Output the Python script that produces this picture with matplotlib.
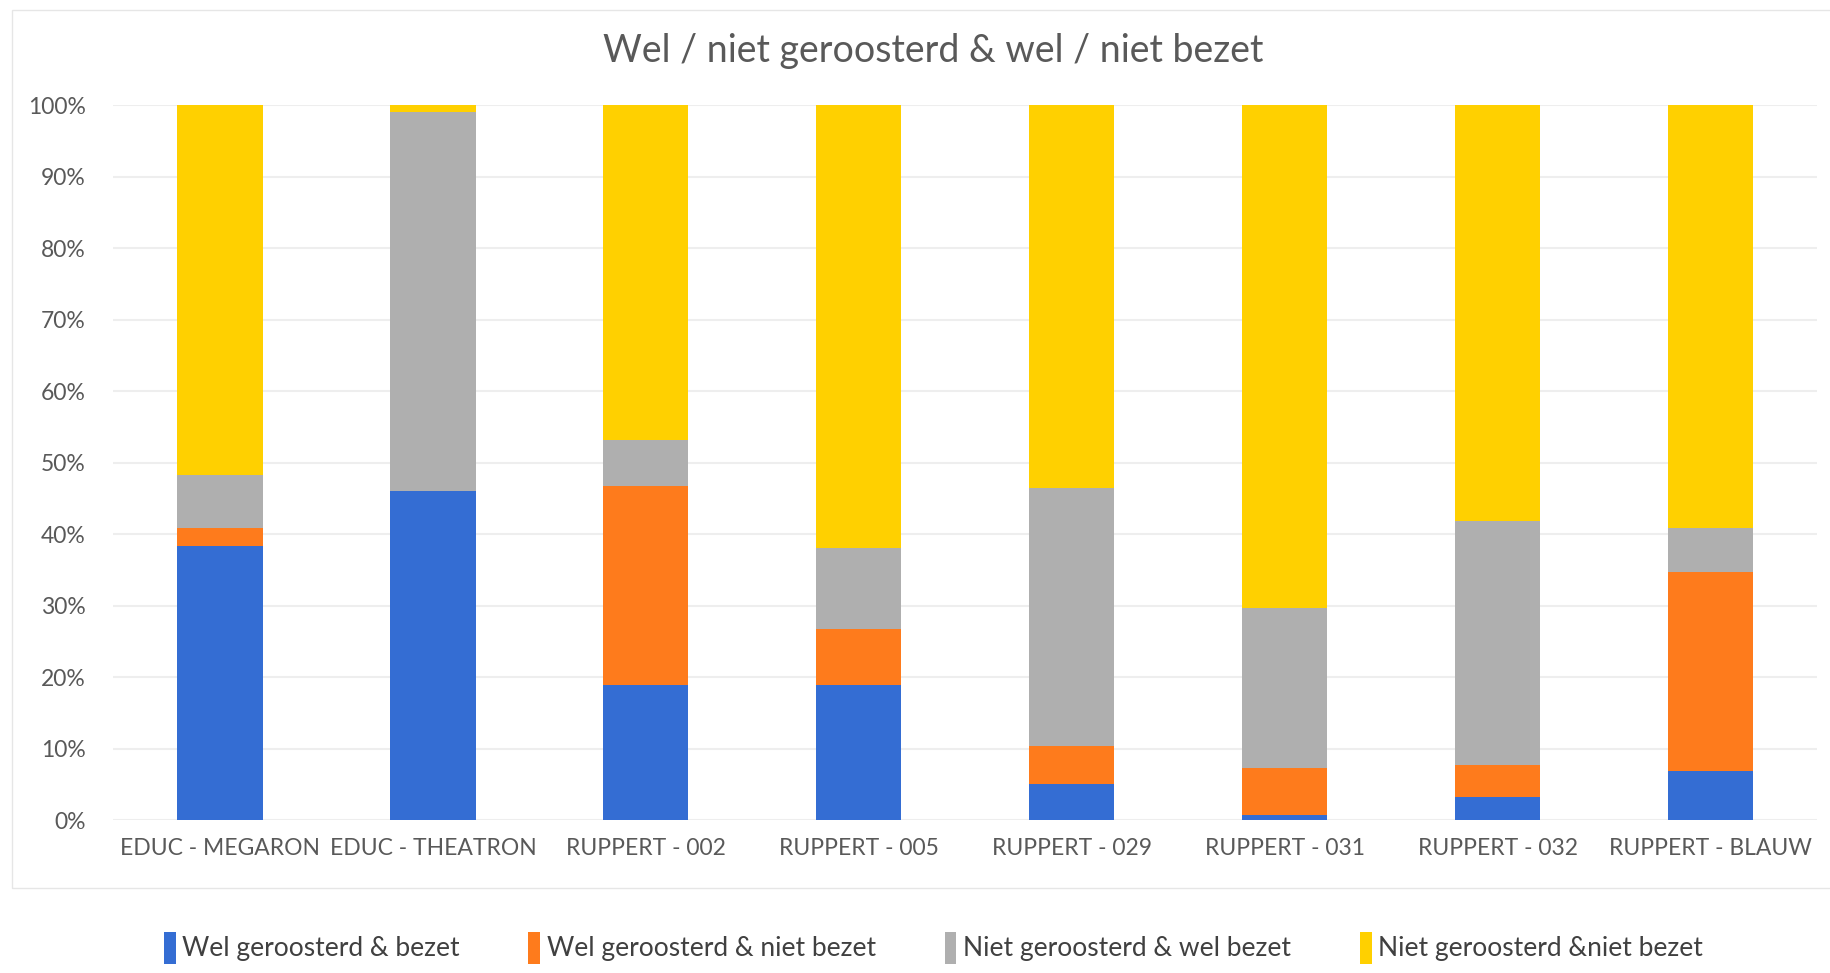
import matplotlib
matplotlib.use('Agg')
import matplotlib.pyplot as plt
from matplotlib.patches import Rectangle, Patch
import numpy as np

plt.rcParams['font.family'] = ['Lato', 'DejaVu Sans']

lokalen = ['EDUC - MEGARON', 'EDUC - THEATRON', 'RUPPERT - 002', 'RUPPERT - 005',
           'RUPPERT - 029', 'RUPPERT - 031', 'RUPPERT - 032', 'RUPPERT - BLAUW']

# percentages per category (reading off the picture)
wel_bezet = [38.3, 46.0, 18.9, 18.9, 5.1, 0.8, 3.3, 6.9]
wel_niet_bezet = [2.6, 0.0, 27.8, 7.9, 5.3, 6.5, 4.4, 27.8]
niet_wel_bezet = [7.4, 53.0, 6.5, 11.2, 36.1, 22.4, 34.1, 6.2]
niet_niet_bezet = [51.7, 1.0, 46.8, 62.0, 53.5, 70.3, 58.2, 59.1]

series = [wel_bezet, wel_niet_bezet, niet_wel_bezet, niet_niet_bezet]
labels = ['Wel geroosterd & bezet', 'Wel geroosterd & niet bezet',
          'Niet geroosterd & wel bezet', 'Niet geroosterd &niet bezet']
colors = ['#346DD3', '#FE7B1C', '#AFAFAF', '#FFD000']

fig = plt.figure(figsize=(18.3, 9.73), dpi=100)
ax = fig.add_axes([0.062, 0.157, 0.931, 0.735])

x = np.arange(len(lokalen))
bottom = np.zeros(len(lokalen))
for vals, c in zip(series, colors):
  vals = np.array(vals)
  ax.bar(x, vals, 0.4, bottom=bottom, color=c, zorder=3)
  bottom += vals

ax.set_xlim(-0.5, len(lokalen) - 0.5)
ax.set_ylim(0, 100)
ax.set_yticks(np.arange(0, 101, 10))
ax.set_yticklabels(['%d%%' % v for v in range(0, 101, 10)])
ax.set_xticks(x)
ax.set_xticklabels(lokalen)
ax.yaxis.grid(True, color='#EEEEEE', linewidth=1.5, zorder=0)
for s in ax.spines.values():
  s.set_visible(False)
ax.tick_params(length=0, colors='#595959', labelsize=16.5)
ax.tick_params(axis='y', pad=20)
ax.tick_params(axis='x', pad=13)

fig.text(0.51, 0.948, 'Wel / niet geroosterd & wel / niet bezet', ha='center',
         va='center', fontsize=27, color='#595959')

# faint chart frame
fig.patches.append(Rectangle((0.0066, 0.087), 1.0, 0.903, transform=fig.transFigure,
                             fill=False, edgecolor='#E6E6E6', linewidth=1))

handles = [Patch(facecolor=c, edgecolor='none') for c in colors]
fig.legend(handles, labels, loc='center', bbox_to_anchor=(0.51, 0.026), ncol=4,
           frameon=False, fontsize=19, handlelength=0.45, handleheight=1.5,
           handletextpad=0.25, columnspacing=2.6, labelcolor='#404040')

fig.savefig('out.png')
